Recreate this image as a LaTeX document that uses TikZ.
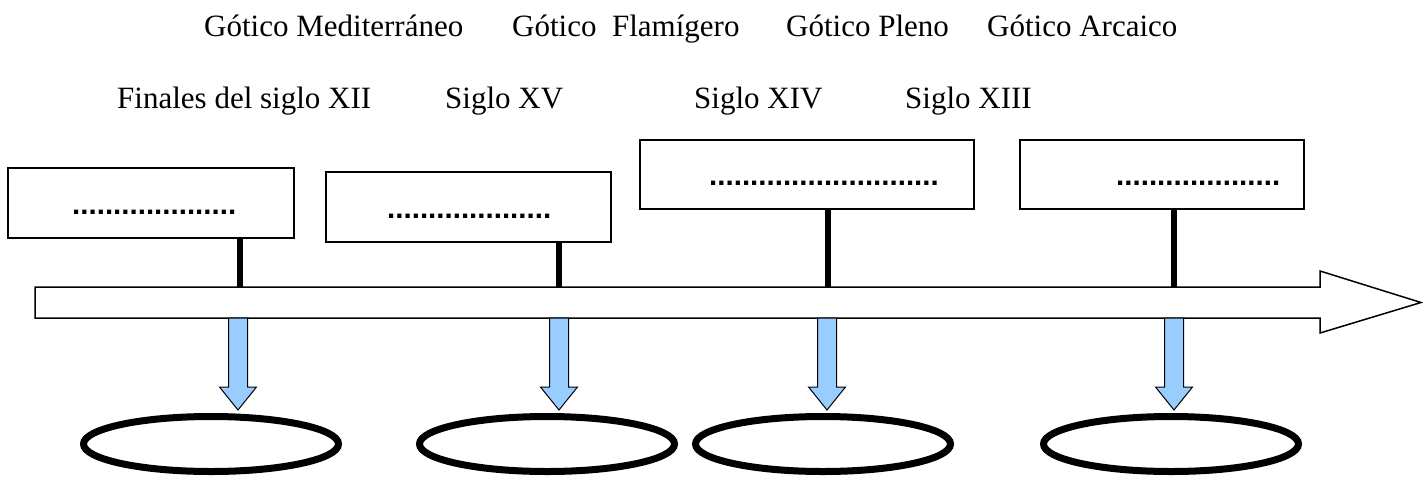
\documentclass[tikz,border=0pt]{standalone}
\usepackage{fontspec}
\setmainfont{Liberation Serif}
\newfontfamily\dotsfont{Liberation Sans}
\usetikzlibrary{shapes.geometric}
\definecolor{lightblue}{HTML}{99CCFF}
\begin{document}
\begin{tikzpicture}[x=1pt,y=-1pt,
  lbl/.style={anchor=base west,inner sep=0pt,font=\fontsize{31}{36}\selectfont},
  dotline/.style={anchor=base west,inner sep=0pt,font=\dotsfont\bfseries\fontsize{29.5}{34}\selectfont},
  tbox/.style={draw,line width=1.3pt,rectangle,inner sep=0pt},
  stem/.style={line width=6.5pt},
  blue arrow/.style={draw,line width=1pt,fill=lightblue,line join=miter},
  oval/.style={draw,line width=7pt,ellipse,inner sep=0pt,minimum width=255pt,minimum height=55pt}
]
\useasboundingbox (0,0) rectangle (1423,479);
% titles
\node[lbl] (t1) at (204,36) {Gótico Mediterráneo};
\node[lbl] (t2) at (512,36) {Gótico\ \ Flamígero};
\node[lbl] (t3) at (786,36) {Gótico Pleno};
\node[lbl] (t4) at (987,36) {Gótico Arcaico};
\node[lbl] (s1) at (117,108) {Finales del siglo XII};
\node[lbl] (s2) at (445,108) {Siglo XV};
\node[lbl] (s3) at (694,108) {Siglo XIV};
\node[lbl] (s4) at (905,108) {Siglo XIII};
% boxes
\node[tbox,minimum width=286pt,minimum height=70pt] (b1) at (151,203) {};
\node[tbox,minimum width=285pt,minimum height=70pt] (b2) at (468.5,207) {};
\node[tbox,minimum width=334pt,minimum height=69pt] (b3) at (807,174.5) {};
\node[tbox,minimum width=284pt,minimum height=69pt] (b4) at (1162,174.5) {};
\node[dotline] (d1) at (72,214) {....................};
\node[dotline] (d2) at (387,218) {....................};
\node[dotline] (d3) at (709,185) {............................};
\node[dotline] (d4) at (1116,185) {....................};
% timeline arrow
\coordinate (a0) at (35,287);
\coordinate (a1) at (1320,287);
\coordinate (a2) at (1320,271);
\coordinate (tip) at (1421,302.5);
\coordinate (a3) at (1320,333);
\coordinate (a4) at (1320,318);
\coordinate (a5) at (35,318);
\draw[line width=1.5pt,line join=miter,fill=white] (a0) -- (a1) -- (a2) -- (tip) -- (a3) -- (a4) -- (a5) -- cycle;
% stems
\coordinate (p1) at (240,287);
\coordinate (p2) at (559,287);
\coordinate (p3) at (828,287);
\coordinate (p4) at (1174,287);
\draw[stem] (b1.south -| p1) -- (p1);
\draw[stem] (b2.south -| p2) -- (p2);
\draw[stem] (b3.south -| p3) -- (p3);
\draw[stem] (b4.south -| p4) -- (p4);
% ellipses
\node[oval] (e1) at (211,444) {};
\node[oval] (e2) at (547,444) {};
\node[oval] (e3) at (823,444) {};
\node[oval] (e4) at (1171,444) {};
% blue arrows
\foreach \x/\n in {238/1,559/2,827/3,1174/4}{
  \draw[blue arrow] (\x-9.5,318) -- (\x+9.5,318) -- (\x+9.5,387) -- (\x+18.5,387)
     -- (\x,410) coordinate (q\n) -- (\x-18.5,387) -- (\x-9.5,387) -- cycle;
}
\end{tikzpicture}
\end{document}
